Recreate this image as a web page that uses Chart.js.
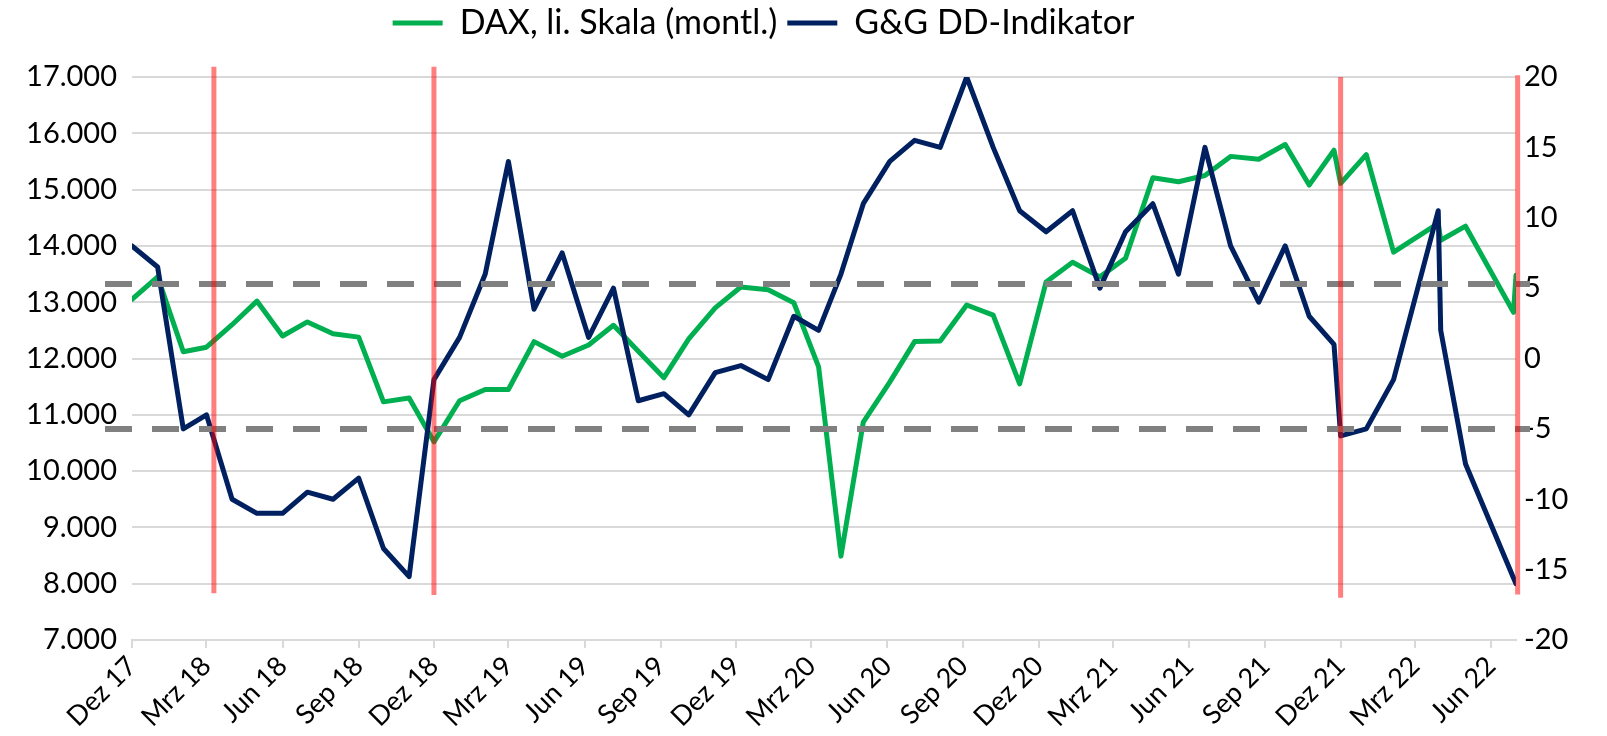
<!DOCTYPE html>
<html>
<head>
<meta charset="utf-8">
<script src="https://cdn.jsdelivr.net/npm/chart.js@4.4.0/dist/chart.umd.min.js"></script>
<style>
  html, body { margin: 0; padding: 0; background: #fff; }
  #wrap { width: 1607px; height: 736px; position: relative; }
</style>
</head>
<body>
<div id="wrap"><canvas id="chart"></canvas></div>
<script>
// observation dates (both series share them)
var dates = [
  '2017-12-01', '2018-01-01', '2018-02-01', '2018-03-01', '2018-04-01', '2018-05-01',
  '2018-06-01', '2018-07-01', '2018-08-01', '2018-09-01', '2018-10-01', '2018-11-01',
  '2018-12-01', '2019-01-01', '2019-02-01', '2019-03-01', '2019-04-01', '2019-05-05',
  '2019-06-06', '2019-07-06', '2019-08-05', '2019-09-05', '2019-10-05', '2019-11-06',
  '2019-12-07', '2020-01-09', '2020-02-09', '2020-03-10', '2020-04-06', '2020-05-03',
  '2020-06-04', '2020-07-04', '2020-08-04', '2020-09-05', '2020-10-07', '2020-11-08',
  '2020-12-10', '2021-01-11', '2021-02-13', '2021-03-16', '2021-04-18', '2021-05-19',
  '2021-06-20', '2021-07-21', '2021-08-24', '2021-09-25', '2021-10-24', '2021-11-23',
  '2021-12-01', '2022-01-01', '2022-02-03', '2022-03-29', '2022-04-01', '2022-05-01',
  '2022-06-28', '2022-07-01'
];

// DAX, left scale
var daxValues = [
  13050, 13450, 12120, 12200, 12600, 13020,
  12400, 12650, 12440, 12380, 11230, 11300,
  10520, 11250, 11450, 11450, 12300, 12040,
  12240, 12590, 12130, 11660, 12350, 12900,
  13270, 13220, 12990, 11850, 8490, 10870,
  11580, 12300, 12310, 12950, 12770, 11550,
  13360, 13710, 13450, 13780, 15210, 15140,
  15250, 15590, 15540, 15800, 15080, 15700,
  15110, 15620, 13890, 14400, 14100, 14350,
  12820, 13480
];

// G&G DD-Indikator, right scale
var ddValues = [
  8, 6.5, -5, -4, -10, -11,
  -11, -9.5, -10, -8.5, -13.5, -15.5,
  -1.5, 1.5, 6, 14, 3.5, 7.5,
  1.5, 5, -3, -2.5, -4, -1,
  -0.5, -1.5, 3, 2, 6, 11,
  14, 15.5, 15, 20, 15, 10.5,
  9, 10.5, 5, 9, 11, 6,
  15, 8, 4, 8, 3, 1,
  -5.5, -5, -1.5, 10.5, 2, -7.5,
  -15.6, -16
];

var tickDates = [
  '2017-12-01', '2018-03-01', '2018-06-01', '2018-09-01', '2018-12-01',
  '2019-03-01', '2019-06-01', '2019-09-01', '2019-12-01', '2020-03-01',
  '2020-06-01', '2020-09-01', '2020-12-01', '2021-03-01', '2021-06-01',
  '2021-09-01', '2021-12-01', '2022-03-01', '2022-06-01'
];
var tickLabels = [
  'Dez 17', 'Mrz 18', 'Jun 18', 'Sep 18', 'Dez 18',
  'Mrz 19', 'Jun 19', 'Sep 19', 'Dez 19', 'Mrz 20',
  'Jun 20', 'Sep 20', 'Dez 20', 'Mrz 21', 'Jun 21',
  'Sep 21', 'Dez 21', 'Mrz 22', 'Jun 22'
];
var axisStart = '2017-12-01';
var axisEnd = '2022-07-01';

// indicator thresholds (right scale)
var ddThresholds = [5.3, -5];

// red signal markers, drawn from/to on the DAX scale
var signalDates = ['2018-03-10', '2018-12-01', '2021-12-01', '2022-07-03'];
var signalFrom = [7830, 7800, 7750, 7810];
var signalTo = [17180, 17180, 17000, 17030];

function toDay(s) {
  var p = s.split('-');
  return (Date.UTC(+p[0], +p[1] - 1, +p[2]) - Date.UTC(2017, 11, 1)) / 86400000;
}

function fmtDe(n) {
  return String(n).replace(/\B(?=(\d{3})+(?!\d))/g, '.');
}

function points(values) {
  return dates.map(function(d, i) {
    return { x: toDay(d), y: values[i] };
  });
}

var FONT = 'Lato';

// dashed thresholds and red signal lines on top of the series
var markers = {
  id: 'markers',
  afterDatasetsDraw: function(chart) {
    var ctx = chart.ctx;
    var area = chart.chartArea;
    var sx = chart.scales.x, sy = chart.scales.y, sy1 = chart.scales.y1;
    ctx.save();
    ctx.strokeStyle = '#808080';
    ctx.lineWidth = 6;
    ctx.setLineDash([27, 20]);
    ddThresholds.forEach(function(v) {
      var py = sy1.getPixelForValue(v);
      ctx.beginPath();
      ctx.moveTo(area.left - 27, py);
      ctx.lineTo(area.right + 14, py);
      ctx.stroke();
    });
    ctx.setLineDash([]);
    ctx.strokeStyle = 'rgba(255, 0, 0, 0.5)';
    ctx.lineWidth = 5;
    signalDates.forEach(function(d, i) {
      var px = sx.getPixelForValue(toDay(d));
      ctx.beginPath();
      ctx.moveTo(px, sy.getPixelForValue(signalTo[i]));
      ctx.lineTo(px, sy.getPixelForValue(signalFrom[i]));
      ctx.stroke();
    });
    ctx.restore();
  }
};

// legend box: taller, and nudged left/up like the original
var legendSpace = {
  id: 'legendSpace',
  beforeInit: function(chart) {
    var fit = chart.legend.fit;
    chart.legend.fit = function() {
      fit.bind(chart.legend)();
      this.height = 77;
    };
  },
  afterLayout: function(chart) {
    chart.legend.left -= 40;
    chart.legend.right -= 40;
    chart.legend.top -= 4;
    chart.legend.bottom -= 4;
  }
};

new Chart(document.getElementById('chart'), {
  type: 'line',
  data: {
    datasets: [{
      label: 'DAX, li. Skala (montl.)',
      data: points(daxValues),
      yAxisID: 'y',
      borderColor: '#00B050',
      backgroundColor: '#00B050',
      borderWidth: 5,
      borderCapStyle: 'round',
      borderJoinStyle: 'round',
      pointRadius: 0,
      pointStyle: 'line',
      tension: 0,
      order: 2
    }, {
      label: 'G&G DD-Indikator',
      data: points(ddValues),
      yAxisID: 'y1',
      borderColor: '#002060',
      backgroundColor: '#002060',
      borderWidth: 5,
      borderCapStyle: 'round',
      borderJoinStyle: 'round',
      pointRadius: 0,
      pointStyle: 'line',
      tension: 0,
      order: 1
    }]
  },
  options: {
    responsive: true,
    maintainAspectRatio: false,
    animation: false,
    layout: {
      padding: { left: 0, right: 0, top: 0, bottom: 0 }
    },
    plugins: {
      tooltip: { enabled: false },
      legend: {
        position: 'top',
        align: 'center',
        labels: {
          usePointStyle: true,
          pointStyleWidth: 50,
          padding: 10,
          color: '#000',
          font: { family: FONT, size: 34 },
          sort: function(a, b) { return a.datasetIndex - b.datasetIndex; }
        }
      }
    },
    scales: {
      x: {
        type: 'linear',
        min: toDay(axisStart),
        max: toDay(axisEnd),
        afterBuildTicks: function(scale) {
          scale.ticks = tickDates.map(function(d) { return { value: toDay(d) }; });
        },
        afterFit: function(scale) { scale.height = 96; },
        ticks: {
          autoSkip: false,
          minRotation: 45,
          maxRotation: 45,
          padding: 2,
          color: '#000',
          font: { family: FONT, size: 27 },
          callback: function(value, index) { return tickLabels[index]; }
        },
        grid: {
          drawOnChartArea: false,
          drawTicks: true,
          tickLength: 8,
          color: '#d9d9d9',
          lineWidth: 2
        },
        border: { color: '#d9d9d9', width: 2 }
      },
      y: {
        position: 'left',
        min: 7000,
        max: 17000,
        afterFit: function(scale) { scale.width = 132; },
        ticks: {
          stepSize: 1000,
          padding: 15,
          color: '#000',
          font: { family: FONT, size: 29 },
          callback: function(v) { return fmtDe(v); }
        },
        grid: { color: '#d9d9d9', lineWidth: 2, drawTicks: false },
        border: { display: false }
      },
      y1: {
        position: 'right',
        min: -20,
        max: 20,
        afterFit: function(scale) { scale.width = 91; },
        ticks: {
          stepSize: 5,
          padding: 8,
          color: '#000',
          font: { family: FONT, size: 29 },
          callback: function(v) { return String(v); }
        },
        grid: { drawOnChartArea: false, drawTicks: false },
        border: { display: false }
      }
    }
  },
  plugins: [legendSpace, markers]
});
</script>
</body>
</html>
